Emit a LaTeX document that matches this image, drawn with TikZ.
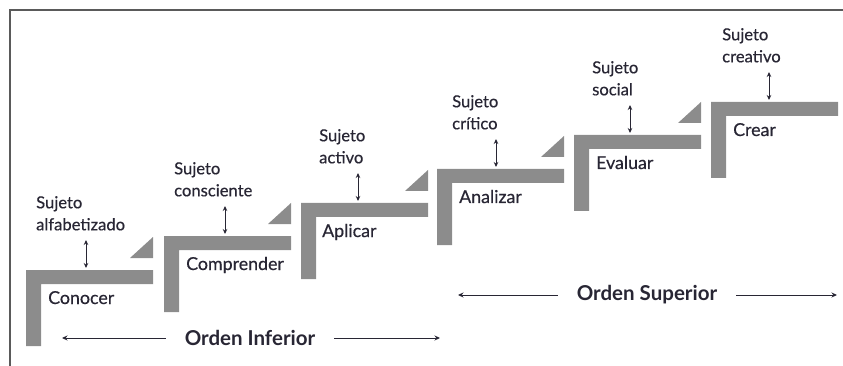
\documentclass[tikz,border=0pt]{standalone}
\usepackage{fontspec}
\setmainfont{Lato}
\newfontfamily\gillish[FakeBold=0.5]{Lato}
\usetikzlibrary{arrows.meta,calc}
\definecolor{stepgray}{RGB}{140,140,140}
\definecolor{ink}{RGB}{40,38,52}
\definecolor{framegray}{RGB}{90,90,90}
\tikzset{
  verb/.style={anchor=base west,inner sep=0pt,text=ink,font=\gillish\fontsize{17.8}{17.8}\selectfont},
  sujeto/.style={anchor=north west,inner sep=0pt,align=left,text=ink,font=\gillish\fontsize{16.6}{22}\selectfont},
  orden/.style={inner sep=0pt,inner xsep=19pt,text=ink,font=\fontsize{20.5}{20.5}\selectfont\bfseries},
  dbl/.style={{Stealth[length=5pt,width=4.5pt]}-{Stealth[length=5pt,width=4.5pt]},line width=1pt,draw=ink},
  lng/.style={-{Stealth[length=5.5pt,width=5pt]},line width=1pt,draw=ink},
  stair/.style={fill=stepgray}
}
\begin{document}
\begin{tikzpicture}[x=1pt,y=-1pt]
    \useasboundingbox (0,0) rectangle (843,366);
    % marco
    \draw[line width=1.4pt,framegray] (843,10) -- (10,10) -- (10,366);
    % peldanos
    \coordinate (s1) at (26,270);
    \coordinate (s2) at (164,236);
    \coordinate (s3) at (301,203);
    \coordinate (s4) at (437,169);
    \coordinate (s5) at (574,135);
    \coordinate (s6) at (711,102);
    \fill[stair] (s1) -- ++(127,0) -- ++(0,14) -- ++(-112,0) -- ++(0,62) -- ++(-15,0) -- cycle;
    \fill[stair] (s2) -- ++(127,0) -- ++(0,14) -- ++(-112,0) -- ++(0,62) -- ++(-15,0) -- cycle;
    \fill[stair] (s3) -- ++(127,0) -- ++(0,14) -- ++(-112,0) -- ++(0,62) -- ++(-15,0) -- cycle;
    \fill[stair] (s4) -- ++(127,0) -- ++(0,14) -- ++(-112,0) -- ++(0,62) -- ++(-15,0) -- cycle;
    \fill[stair] (s5) -- ++(127,0) -- ++(0,14) -- ++(-112,0) -- ++(0,62) -- ++(-15,0) -- cycle;
    \fill[stair] (s6) -- ++(127,0) -- ++(0,14) -- ++(-112,0) -- ++(0,62) -- ++(-15,0) -- cycle;
    % triangulos
    \fill[stair] (130,258) -- (153,258) -- (153,237) -- cycle;
    \fill[stair] (268,224) -- (291,224) -- (291,203) -- cycle;
    \fill[stair] (405,191) -- (428,191) -- (428,170) -- cycle;
    \fill[stair] (541,157) -- (564,157) -- (564,136) -- cycle;
    \fill[stair] (678,123) -- (701,123) -- (701,102) -- cycle;
    % verbos
    \node[verb] (conocer) at (48,304) {Conocer};
    \node[verb] (comprender) at (186,270) {Comprender};
    \node[verb] (aplicar) at (322,237) {Aplicar};
    \node[verb] (analizar) at (459,203) {Analizar};
    \node[verb] (evaluar) at (596,169) {Evaluar};
    \node[verb] (crear) at (733,136) {Crear};
    % sujetos
    \node[sujeto] (alfa) at (36,196) {Sujeto\\alfabetizado};
    \node[sujeto] (consc) at (174,162) {Sujeto\\consciente};
    \node[sujeto] (activo) at (319,129) {Sujeto\\activo};
    \node[sujeto] (critico) at (452,95) {Sujeto\\crítico};
    \node[sujeto] (social) at (592,61) {Sujeto\\social};
    \node[sujeto] (creativo) at (722,28) {Sujeto\\creativo};
    % flechas dobles
    \coordinate (t1) at (86,240);  \coordinate (b1) at (86,268);
    \coordinate (t2) at (225,206); \coordinate (b2) at (225,234);
    \coordinate (t3) at (358,173); \coordinate (b3) at (358,201);
    \coordinate (t4) at (496,139); \coordinate (b4) at (496,167);
    \coordinate (t5) at (630,105); \coordinate (b5) at (630,133);
    \coordinate (t6) at (769,72);  \coordinate (b6) at (769,100);
    \draw[dbl] (t1) -- (b1);
    \draw[dbl] (t2) -- (b2);
    \draw[dbl] (t3) -- (b3);
    \draw[dbl] (t4) -- (b4);
    \draw[dbl] (t5) -- (b5);
    \draw[dbl] (t6) -- (b6);
    % ordenes
    \node[orden] (inferior) at (250,338) {Orden Inferior};
    \node[orden] (superior) at (647,295) {Orden Superior};
    \coordinate (infL) at (62,338);  \coordinate (infR) at (440,338);
    \coordinate (supL) at (458,295); \coordinate (supR) at (837,295);
    \draw[lng] (inferior) -- (infL);
    \draw[lng] (inferior) -- (infR);
    \draw[lng] (superior) -- (supL);
    \draw[lng] (superior) -- (supR);
\end{tikzpicture}
\end{document}
